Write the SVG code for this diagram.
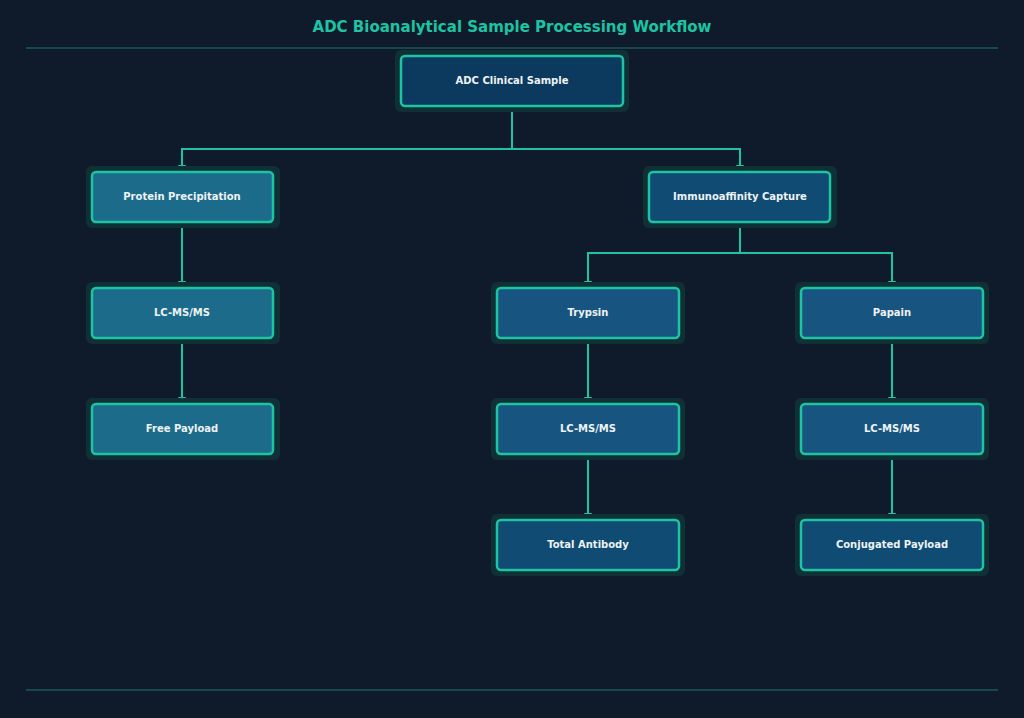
<svg xmlns="http://www.w3.org/2000/svg" width="1024" height="718" viewBox="0 0 1024 718">
<defs>
<style>
.glow{fill:#0f3136;stroke:none}
.box{stroke:#1cc4a4;stroke-width:2.5}
.t{font-family:"DejaVu Sans",sans-serif;font-size:10px;font-weight:bold;fill:#eef2f4;text-anchor:middle;dominant-baseline:middle}
.c{fill:none;stroke:#1cc4a4;stroke-width:2}
</style>
<marker id="a" markerWidth="8" markerHeight="8" refX="4" refY="7" orient="auto-start-reverse" markerUnits="userSpaceOnUse" viewBox="0 0 8 8"><path d="M0,0 L8,0 L4,8 Z" fill="#1cc4a4" transform="rotate(0)"/></marker>
</defs>
<rect width="1024" height="718" fill="#0f1b2a"/>
<text x="512" y="27" font-family="DejaVu Sans,sans-serif" font-size="15" font-weight="bold" fill="#1cc4a4" text-anchor="middle" dominant-baseline="middle">ADC Bioanalytical Sample Processing Workflow</text>
<line x1="26" y1="48" x2="998" y2="48" stroke="#1a5a5a" stroke-width="1.5"/>
<line x1="26" y1="690" x2="998" y2="690" stroke="#1a5a5a" stroke-width="1.5"/>
<g id="connectors">
<path class="c" d="M512,101 V149 H182 V166"/>
<path class="c" d="M512,149 H740 V166"/>
<path class="c" d="M182,218 V282"/>
<path class="c" d="M182,334 V398"/>
<path class="c" d="M740,218 V253 H588 V282"/>
<path class="c" d="M740,253 H892 V282"/>
<path class="c" d="M588,334 V398"/>
<path class="c" d="M588,450 V514"/>
<path class="c" d="M892,334 V398"/>
<path class="c" d="M892,450 V514"/>
<g fill="#1cc4a4">
<path d="M178,165 H186 L182,173 Z"/><path d="M736,165 H744 L740,173 Z"/>
<path d="M178,281 H186 L182,289 Z"/><path d="M178,397 H186 L182,405 Z"/>
<path d="M584,281 H592 L588,289 Z"/><path d="M888,281 H896 L892,289 Z"/>
<path d="M584,397 H592 L588,405 Z"/><path d="M584,513 H592 L588,521 Z"/>
<path d="M888,397 H896 L892,405 Z"/><path d="M888,513 H896 L892,521 Z"/>
</g>
</g>
<g id="n1"><rect class="glow" x="395" y="50" width="234" height="62" rx="6"/><rect class="box" x="401" y="56" width="222" height="50" rx="4" fill="#0b3a5e"/><text class="t" x="512" y="81">ADC Clinical Sample</text></g>
<g id="n2"><rect class="glow" x="86" y="166" width="194" height="62" rx="6"/><rect class="box" x="92" y="172" width="181" height="50" rx="4" fill="#1c6b8a"/><text class="t" x="182" y="197">Protein Precipitation</text></g>
<g id="n3"><rect class="glow" x="643" y="166" width="194" height="62" rx="6"/><rect class="box" x="649" y="172" width="181" height="50" rx="4" fill="#0f4b72"/><text class="t" x="740" y="197">Immunoaffinity Capture</text></g>
<g id="n4"><rect class="glow" x="86" y="282" width="194" height="62" rx="6"/><rect class="box" x="92" y="288" width="181" height="50" rx="4" fill="#1c6b8a"/><text class="t" x="182" y="313">LC-MS/MS</text></g>
<g id="n5"><rect class="glow" x="86" y="398" width="194" height="62" rx="6"/><rect class="box" x="92" y="404" width="181" height="50" rx="4" fill="#1c6b8a"/><text class="t" x="182" y="429">Free Payload</text></g>
<g id="n6"><rect class="glow" x="491" y="282" width="194" height="62" rx="6"/><rect class="box" x="497" y="288" width="182" height="50" rx="4" fill="#175580"/><text class="t" x="588" y="313">Trypsin</text></g>
<g id="n7"><rect class="glow" x="795" y="282" width="194" height="62" rx="6"/><rect class="box" x="801" y="288" width="182" height="50" rx="4" fill="#175580"/><text class="t" x="892" y="313">Papain</text></g>
<g id="n8"><rect class="glow" x="491" y="398" width="194" height="62" rx="6"/><rect class="box" x="497" y="404" width="182" height="50" rx="4" fill="#175580"/><text class="t" x="588" y="429">LC-MS/MS</text></g>
<g id="n9"><rect class="glow" x="795" y="398" width="194" height="62" rx="6"/><rect class="box" x="801" y="404" width="182" height="50" rx="4" fill="#175580"/><text class="t" x="892" y="429">LC-MS/MS</text></g>
<g id="n10"><rect class="glow" x="491" y="514" width="194" height="62" rx="6"/><rect class="box" x="497" y="520" width="182" height="50" rx="4" fill="#0f4b72"/><text class="t" x="588" y="545">Total Antibody</text></g>
<g id="n11"><rect class="glow" x="795" y="514" width="194" height="62" rx="6"/><rect class="box" x="801" y="520" width="182" height="50" rx="4" fill="#0f4b72"/><text class="t" x="892" y="545">Conjugated Payload</text></g>
</svg>
